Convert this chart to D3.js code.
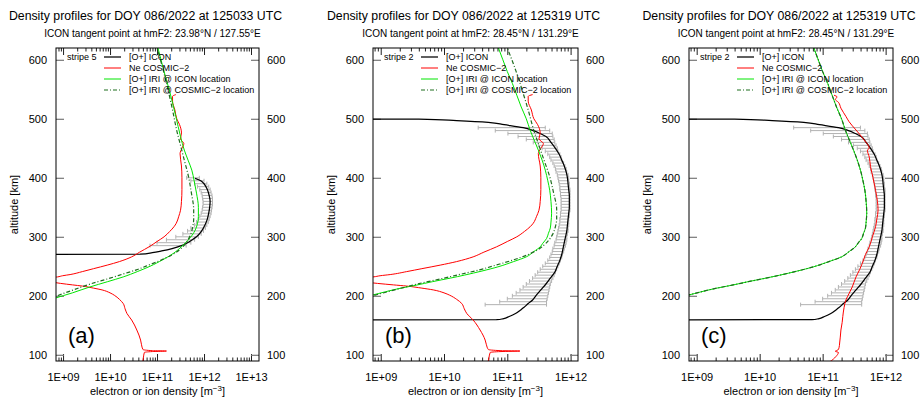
<!DOCTYPE html>
<html>
<head>
<meta charset="utf-8">
<script src="https://cdn.jsdelivr.net/npm/d3@7"></script>
<style>
body{margin:0;background:#fff}
text{font-family:"Liberation Sans",Arial,sans-serif}
</style>
</head>
<body>
<div id="graphHolder"></div>
<script>
// all densities are log10 of m^-3, altitudes in km
// a value of 3 means "below the plot floor" (draws the flat line to the left edge)

// panel (a) ICON stripe 5
const iconAltA = [270, 270.5, 273, 276, 280, 285, 290, 295, 300, 310, 320, 330, 340, 350, 360, 370, 380, 390, 395, 399]
const iconLogA = [3, 10.64, 10.9, 11.1, 11.32, 11.52, 11.65, 11.75, 11.84, 11.95, 12.02, 12.07, 12.1, 12.12, 12.13, 12.11, 12.07, 12.0, 11.93, 11.81]
const barAltA = [285, 290, 295, 300, 305, 310, 315, 320, 325, 330, 335, 340, 345, 350, 355, 360, 365, 370, 375, 380, 385, 390, 395, 400]
const barLoA = [10.85, 11.0, 11.2, 11.4, 11.55, 11.65, 11.72, 11.8, 11.84, 11.88, 11.91, 11.94, 11.96, 11.97, 11.98, 11.98, 11.97, 11.96, 11.94, 11.91, 11.86, 11.8, 11.72, 11.63]
const barHiA = [11.62, 11.72, 11.8, 11.88, 11.94, 11.99, 12.03, 12.06, 12.09, 12.11, 12.13, 12.15, 12.16, 12.17, 12.18, 12.18, 12.18, 12.17, 12.15, 12.13, 12.1, 12.06, 12.0, 11.9]
const iriIconAltA = [185, 196, 205, 215, 224, 232, 241, 250, 261, 272, 284, 295, 311, 322, 334, 350, 374, 395, 413, 430, 447, 470, 504, 549, 583, 620]
const iriIconLogA = [8.45, 8.83, 9.2, 9.57, 9.95, 10.28, 10.58, 10.85, 11.12, 11.35, 11.53, 11.67, 11.81, 11.86, 11.88, 11.88, 11.84, 11.79, 11.74, 11.66, 11.58, 11.5, 11.4, 11.26, 11.14, 11.02]

// COSMIC-2 profile shared by (a) and (b)
const cosmicAltAB = [85, 95, 104, 105.5, 106.4, 107, 109, 117, 125, 142, 159, 170, 178, 187, 194, 201, 205, 210, 213, 216.5, 218.5, 221, 224, 228, 232, 234, 236, 241, 246, 252, 258, 266, 274, 283, 292, 300, 309, 317, 323, 334, 345, 360, 380, 400, 420, 441, 450, 458, 466, 476, 490, 500, 515, 530, 538, 541]
const cosmicLogAB = [10.69, 10.71, 10.73, 10.9, 11.2, 10.9, 10.7, 10.67, 10.65, 10.57, 10.46, 10.36, 10.32, 10.28, 10.2, 10.09, 10.0, 9.83, 9.65, 9.41, 9.2, 8.95, 8.7, 8.3, 8.88, 8.99, 9.15, 9.41, 9.65, 9.94, 10.2, 10.46, 10.63, 10.83, 11.0, 11.15, 11.27, 11.36, 11.41, 11.46, 11.5, 11.52, 11.53, 11.53, 11.52, 11.49, 11.53, 11.57, 11.5, 11.52, 11.48, 11.42, 11.38, 11.33, 11.33, 11.40]
const iriCosAltAB = [185, 198, 210, 220, 230, 237, 244, 252, 261, 270, 278, 285, 295, 305, 317, 330, 346, 375, 402, 430, 458, 480, 515, 540, 580, 620]
const iriCosLogAB = [8.35, 8.8, 9.22, 9.58, 10.0, 10.28, 10.56, 10.82, 11.1, 11.33, 11.48, 11.57, 11.66, 11.72, 11.76, 11.78, 11.78, 11.73, 11.67, 11.58, 11.49, 11.42, 11.33, 11.26, 11.14, 11.0]

// ICON stripe 2, shared by (b) and (c)
const iconAltBC = [159, 159.5, 161, 165, 170, 176, 180, 187, 193, 200, 210, 220, 230, 240, 250, 260, 270, 280, 290, 300, 310, 320, 330, 340, 350, 360, 370, 380, 390, 400, 410, 420, 430, 440, 450, 460, 470, 475, 480, 485, 490, 494, 497, 499.5, 500.7]
const iconLogBC = [3, 10.83, 10.93, 11.03, 11.13, 11.21, 11.26, 11.33, 11.40, 11.45, 11.53, 11.61, 11.68, 11.75, 11.79, 11.83, 11.86, 11.88, 11.90, 11.92, 11.94, 11.95, 11.96, 11.97, 11.98, 11.98, 11.98, 11.97, 11.96, 11.95, 11.93, 11.9, 11.86, 11.82, 11.76, 11.69, 11.61, 11.52, 11.41, 11.25, 10.95, 10.7, 10.2, 9.6, 3]
const barAltBC = [185, 190, 195, 200, 205, 210, 215, 220, 225, 230, 235, 240, 245, 250, 255, 260, 265, 270, 275, 280, 285, 290, 295, 300, 305, 310, 315, 320, 325, 330, 335, 340, 345, 350, 355, 360, 365, 370, 375, 380, 385, 390, 395, 400, 405, 410, 415, 420, 425, 430, 435, 440, 445, 450, 455, 460, 465, 470, 475, 480, 485]
const barLoBC = [10.65, 10.88, 11.0, 11.08, 11.14, 11.2, 11.25, 11.3, 11.35, 11.4, 11.44, 11.48, 11.52, 11.56, 11.6, 11.64, 11.67, 11.69, 11.71, 11.72, 11.74, 11.75, 11.77, 11.78, 11.79, 11.8, 11.81, 11.82, 11.83, 11.83, 11.84, 11.84, 11.85, 11.85, 11.85, 11.85, 11.85, 11.84, 11.84, 11.83, 11.83, 11.82, 11.81, 11.8, 11.79, 11.77, 11.76, 11.74, 11.72, 11.69, 11.67, 11.64, 11.6, 11.55, 11.49, 11.41, 11.3, 11.17, 11.01, 10.81, 10.54]
const barHiBC = [11.62, 11.62, 11.63, 11.64, 11.65, 11.66, 11.67, 11.68, 11.7, 11.72, 11.74, 11.76, 11.78, 11.8, 11.82, 11.84, 11.86, 11.87, 11.89, 11.9, 11.92, 11.93, 11.94, 11.94, 11.95, 11.96, 11.96, 11.97, 11.97, 11.97, 11.98, 11.98, 11.99, 11.99, 11.99, 11.99, 11.99, 11.99, 11.99, 11.99, 11.98, 11.98, 11.97, 11.97, 11.96, 11.94, 11.93, 11.91, 11.89, 11.86, 11.85, 11.83, 11.8, 11.79, 11.77, 11.75, 11.74, 11.72, 11.71, 11.67, 11.6]
const iriIconAltBC = [190, 201, 207, 213, 218, 224, 230, 235, 242, 249, 258, 266, 275, 283, 289, 297, 306, 315, 325, 340, 360, 379, 395, 413, 430, 447, 460, 481, 500, 520, 540, 560, 580, 600, 620]
const iriIconLogBC = [8.42, 8.86, 9.08, 9.32, 9.56, 9.82, 10.1, 10.32, 10.6, 10.85, 11.1, 11.3, 11.42, 11.52, 11.56, 11.62, 11.65, 11.68, 11.69, 11.70, 11.69, 11.67, 11.64, 11.60, 11.55, 11.49, 11.44, 11.36, 11.30, 11.22, 11.15, 11.08, 11.0, 10.93, 10.86]

// COSMIC-2 profile of (c), its IRI profile matches the ICON one
const cosmicAltC = [82, 88, 97, 104, 106, 108, 112, 120, 130, 142, 155, 165, 180, 193, 204, 215, 232, 245, 255, 270, 283, 300, 317, 330, 345, 360, 379, 400, 419, 435, 447, 450, 464, 481, 495, 504, 518, 528, 533, 537, 540]
const cosmicLogC = [11.0, 11.11, 11.21, 11.25, 11.2, 11.24, 11.26, 11.27, 11.28, 11.29, 11.31, 11.32, 11.34, 11.37, 11.42, 11.47, 11.53, 11.59, 11.63, 11.68, 11.74, 11.79, 11.84, 11.86, 11.88, 11.87, 11.84, 11.80, 11.76, 11.74, 11.71, 11.74, 11.66, 11.53, 11.42, 11.37, 11.29, 11.25, 11.2, 11.23, 11.18]
const iriCosAltC = iriIconAltBC
const iriCosLogC = iriIconLogBC

const yTicks = [100, 200, 300, 400, 500, 600]
const decadesA = [1e9, 1e10, 1e11, 1e12, 1e13]
const decadesBC = [1e9, 1e10, 1e11, 1e12]
const legendLabels = ['[O+] ICON', 'Ne COSMIC\u22122', '[O+] IRI @ ICON location', '[O+] IRI @ COSMIC\u22122 location']

const panels = [
	{left:56, right:259, xDomain:[10**8.85, 10**13.17], decades:decadesA, tag:'(a)', stripe:'stripe 5',
		title:'Density profiles for DOY 086/2022 at 125033 UTC', sub:'ICON tangent point at hmF2: 23.98°N / 127.55°E',
		icon:[iconAltA, iconLogA], bars:[barAltA, barLoA, barHiA], cosmic:[cosmicAltAB, cosmicLogAB],
		iriIcon:[iriIconAltA, iriIconLogA], iriCos:[iriCosAltAB, iriCosLogAB]},
	{left:373, right:578, xDomain:[10**8.878, 10**12.117], decades:decadesBC, tag:'(b)', stripe:'stripe 2',
		title:'Density profiles for DOY 086/2022 at 125319 UTC', sub:'ICON tangent point at hmF2: 28.45°N / 131.29°E',
		icon:[iconAltBC, iconLogBC], bars:[barAltBC, barLoBC, barHiBC], cosmic:[cosmicAltAB, cosmicLogAB],
		iriIcon:[iriIconAltBC, iriIconLogBC], iriCos:[iriCosAltAB, iriCosLogAB]},
	{left:689, right:893, xDomain:[10**8.878, 10**12.117], decades:decadesBC, tag:'(c)', stripe:'stripe 2',
		title:'Density profiles for DOY 086/2022 at 125319 UTC', sub:'ICON tangent point at hmF2: 28.45°N / 131.29°E',
		icon:[iconAltBC, iconLogBC], bars:[barAltBC, barLoBC, barHiBC], cosmic:[cosmicAltC, cosmicLogC],
		iriIcon:[iriIconAltBC, iriIconLogBC], iriCos:[iriCosAltC, iriCosLogC]}
]

const width = 924, height = 404
const plotTop = 48, plotBottom = 361
const svg = d3.select('#graphHolder').append('svg')
	.attr('width', width)
	.attr('height', height)
svg.append('rect').attr('width', width).attr('height', height).attr('fill', '#fff')

const y = d3.scaleLinear().domain([89.5, 620]).range([plotBottom, plotTop])
const fmtE = d => '1E+' + String(Math.round(Math.log10(d))).padStart(2, '0')

const styles = [
	{stroke:'#000', width:1.25, dash:null},
	{stroke:'#ff0000', width:1, dash:null},
	{stroke:'#00e600', width:1, dash:null},
	{stroke:'#1f6e1f', width:1.2, dash:'4,2,1,2'}
]

panels.forEach((p, i) => drawPanel(p, i))

function drawPanel(p, i){
	const g = svg.append('g')
	const x = d3.scaleLog().domain(p.xDomain).range([p.left, p.right])
	const cx = (p.left + p.right) / 2

	svg.append('clipPath').attr('id', 'clip' + i)
		.append('rect')
		.attr('x', p.left).attr('y', plotTop)
		.attr('width', p.right - p.left).attr('height', plotBottom - plotTop)

	//titles
	g.append('text').attr('x', cx - 12).attr('y', 19.5)
		.attr('text-anchor', 'middle').attr('font-size', 12.3).text(p.title)
	g.append('text').attr('x', cx - 5).attr('y', 37)
		.attr('text-anchor', 'middle').attr('font-size', 10).text(p.sub)

	//minor ticks
	const minors = []
	;[p.decades[0] / 10].concat(p.decades).forEach(d => {
		for(let k = 2; k < 10; k++){
			const v = d * k
			if(v > p.xDomain[0] && v < p.xDomain[1]) minors.push(v)
		}
	})

	const style = a => a.attr('font-size', 11).attr('font-family', '"Liberation Sans",Arial,sans-serif')
		.call(s => s.select('.domain').remove())

	g.append('g').attr('transform', `translate(0,${plotBottom})`)
		.call(d3.axisBottom(x).tickValues(p.decades).tickSize(-7).tickPadding(12).tickFormat(fmtE))
		.call(style)
	g.append('g').attr('transform', `translate(0,${plotBottom})`)
		.call(d3.axisBottom(x).tickValues(minors).tickSize(-3.5).tickFormat(''))
		.call(style)
	g.append('g').attr('transform', `translate(0,${plotTop})`)
		.call(d3.axisTop(x).tickValues(p.decades).tickSize(-7).tickFormat(''))
		.call(style)
	g.append('g').attr('transform', `translate(0,${plotTop})`)
		.call(d3.axisTop(x).tickValues(minors).tickSize(-3.5).tickFormat(''))
		.call(style)
	g.selectAll('.tick line').attr('stroke', '#222')

	const yl = g.append('g').attr('transform', `translate(${p.left},0)`)
		.call(d3.axisLeft(y).tickValues(yTicks).tickSize(-8).tickPadding(9))
		.call(style)
	const yr = g.append('g').attr('transform', `translate(${p.right},0)`)
		.call(d3.axisRight(y).tickValues(yTicks).tickSize(-8).tickPadding(8))
		.call(style)
	yl.selectAll('.tick line').attr('stroke', '#777').attr('stroke-width', 1.2)
	yr.selectAll('.tick line').attr('stroke', '#777').attr('stroke-width', 1.2)

	//axis titles
	g.append('text')
		.attr('transform', `translate(${p.left - 38},${(plotTop + plotBottom) / 2}) rotate(-90)`)
		.attr('text-anchor', 'middle').attr('font-size', 11).text('altitude [km]')
	const xl = g.append('text').attr('x', cx).attr('y', 395)
		.attr('text-anchor', 'middle').attr('font-size', 11)
	xl.append('tspan').text('electron or ion density [m')
	xl.append('tspan').attr('dy', -4.5).attr('font-size', 8).text('\u22123')
	xl.append('tspan').attr('dy', 4.5).text(']')

	//plot area
	const area = g.append('g').attr('clip-path', `url(#clip${i})`)

	//error bars of ICON
	const bars = d3.zip(p.bars[0], p.bars[1], p.bars[2])
	const bg = area.append('g').attr('stroke', '#b2b2b2').attr('stroke-width', 1).attr('fill', 'none')
	bg.selectAll('line.bar').data(bars).enter().append('line').attr('class', 'bar')
		.attr('x1', d => x(10 ** d[1])).attr('x2', d => x(10 ** d[2]))
		.attr('y1', d => y(d[0])).attr('y2', d => y(d[0]))
	bg.selectAll('line.capl').data(bars).enter().append('line').attr('class', 'capl')
		.attr('x1', d => x(10 ** d[1])).attr('x2', d => x(10 ** d[1]))
		.attr('y1', d => y(d[0]) - 2).attr('y2', d => y(d[0]) + 2)
	bg.selectAll('line.caph').data(bars).enter().append('line').attr('class', 'caph')
		.attr('x1', d => x(10 ** d[2])).attr('x2', d => x(10 ** d[2]))
		.attr('y1', d => y(d[0]) - 2).attr('y2', d => y(d[0]) + 2)

	const line = d3.line()
		.x(d => x(10 ** d[1]))
		.y(d => y(d[0]))
		.curve(d3.curveMonotoneY)

	const series = [p.icon, p.cosmic, p.iriIcon, p.iriCos]
	series.forEach((s, k) => {
		area.append('path')
			.datum(d3.zip(s[0], s[1]))
			.attr('d', line)
			.attr('fill', 'none')
			.attr('stroke', styles[k].stroke)
			.attr('stroke-width', styles[k].width)
			.attr('stroke-dasharray', styles[k].dash)
	})

	//frame
	g.append('rect')
		.attr('x', p.left).attr('y', plotTop)
		.attr('width', p.right - p.left).attr('height', plotBottom - plotTop)
		.attr('fill', 'none').attr('stroke', '#000').attr('stroke-width', 1)

	//legend
	const rows = [57, 68, 79, 90]
	g.append('text').attr('x', p.left + 11).attr('y', rows[0] + 3.2)
		.attr('font-size', 9).text(p.stripe)
	legendLabels.forEach((t, k) => {
		g.append('line')
			.attr('x1', p.left + 48).attr('x2', p.left + 65)
			.attr('y1', rows[k]).attr('y2', rows[k])
			.attr('stroke', styles[k].stroke)
			.attr('stroke-width', styles[k].width)
			.attr('stroke-dasharray', styles[k].dash)
		g.append('text').attr('x', p.left + 73).attr('y', rows[k] + 3.2)
			.attr('font-size', 9).text(t)
	})

	//panel tag
	g.append('text').attr('x', p.left + 12).attr('y', 343)
		.attr('font-size', 22).text(p.tag)
}
</script>
</body>
</html>
